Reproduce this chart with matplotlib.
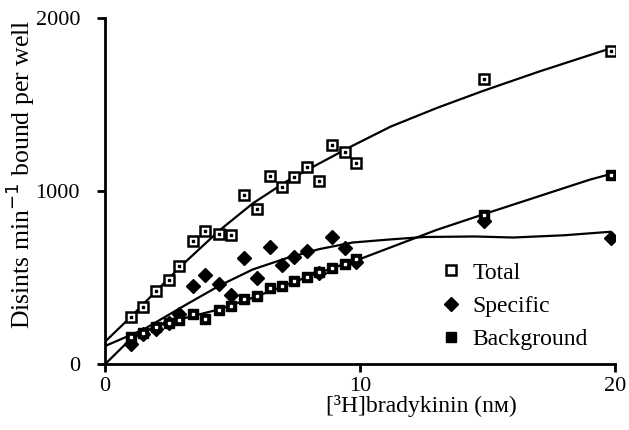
import matplotlib
matplotlib.use("Agg")
from matplotlib import pyplot as plt

# [3H]bradykinin concentration (nM) for the measured points
conc = [1.0, 1.5, 2.0, 2.5, 2.9, 3.45, 3.9, 4.45, 4.95, 5.45, 5.95, 6.45, 6.95, 7.4,
        7.9, 8.4, 8.9, 9.4, 9.85, 14.85, 19.85]

total = [270, 332, 423, 484, 565, 710, 772, 755, 745, 975, 895, 1085, 1025, 1080,
         1142, 1057, 1266, 1225, 1162, 1646, 1812]
specific = [115, 173, 202, 240, 288, 450, 513, 461, 402, 614, 496, 680, 574, 617,
            655, 528, 733, 670, 590, 826, 730]
background = [160, 179, 213, 240, 254, 288, 259, 311, 338, 375, 396, 442, 450, 480,
              505, 535, 557, 580, 605, 865, 1095]

# fitted curves
total_fit_x = [0, 1, 2, 3, 4.5, 5.8, 7.1, 8.4, 9.7, 11.2, 13, 14.8, 17, 19.8]
total_fit_y = [130, 272, 422, 570, 775, 930, 1055, 1160, 1262, 1373, 1480, 1578, 1690, 1824]
spec_fit_x = [0, 1.5, 3.2, 4.5, 5.8, 7.1, 8.4, 9.7, 11.1, 12.5, 14.5, 16, 18, 19.8]
spec_fit_y = [105, 200, 346, 455, 548, 612, 665, 703, 720, 735, 738, 732, 745, 765]
bg_fit_x = [0, 1, 2, 3, 4.5, 6, 7, 8, 9, 10, 13, 15, 19, 19.8]
bg_fit_y = [0, 145, 220, 262, 318, 395, 452, 508, 560, 608, 776, 874, 1066, 1098]

plt.rcParams['font.family'] = ['Liberation Serif', 'DejaVu Serif']
plt.rcParams['font.size'] = 13

fig = plt.figure(figsize=(6.29, 4.30), dpi=100)
ax = fig.add_axes([0.167, 0.153, 0.811, 0.805])

ax.plot(total_fit_x, total_fit_y, color='black', lw=1.6)
ax.plot(spec_fit_x, spec_fit_y, color='black', lw=1.6)
ax.plot(bg_fit_x, bg_fit_y, color='black', lw=1.6)

ax.plot(conc, background, linestyle='none', marker='s', ms=7, mfc='black', mec='black',
        label='Background', zorder=3)
ax.plot(conc, background, linestyle='none', marker='s', ms=1.5, mfc='white', mec='white',
        zorder=4)
ax.plot(conc, specific, linestyle='none', marker='D', ms=7, mfc='black', mec='black',
        label='Specific', zorder=3)
ax.plot(conc, total, linestyle='none', marker='s', ms=6.5, mfc='white', mec='black', mew=1.8,
        label='Total', zorder=3)
ax.plot(conc, total, linestyle='none', marker='s', ms=1.8, mfc='black', mec='black', zorder=4)

handles, labels = ax.get_legend_handles_labels()
order = [2, 1, 0]
ax.legend([handles[i] for i in order], [labels[i] for i in order], frameon=False,
          loc='upper left', bbox_to_anchor=(0.642, 0.322), handletextpad=0.5,
          labelspacing=0.5, fontsize=17, handlelength=0.8, borderaxespad=0)

ax.set_xlim(0, 20)
ax.set_ylim(0, 2000)
ax.set_xticks([0, 10, 20])
ax.set_yticks([0, 1000, 2000])
ax.spines['top'].set_visible(False)
ax.spines['right'].set_visible(False)
for s in ['left', 'bottom']:
    ax.spines[s].set_linewidth(2)
ax.tick_params(direction='out', length=6, width=2, labelsize=16)
ax.tick_params(axis='y', pad=12)

ax.set_xlabel('[³H]bradykinin (nᴍ)', fontsize=17)
ax.xaxis.set_label_coords(0.62, -0.09)
ax.set_ylabel('Disints min$^{-1}$ bound per well', fontsize=18.5)
ax.yaxis.set_label_coords(-0.134, 0.55)

fig.savefig('out.png', dpi=100)
